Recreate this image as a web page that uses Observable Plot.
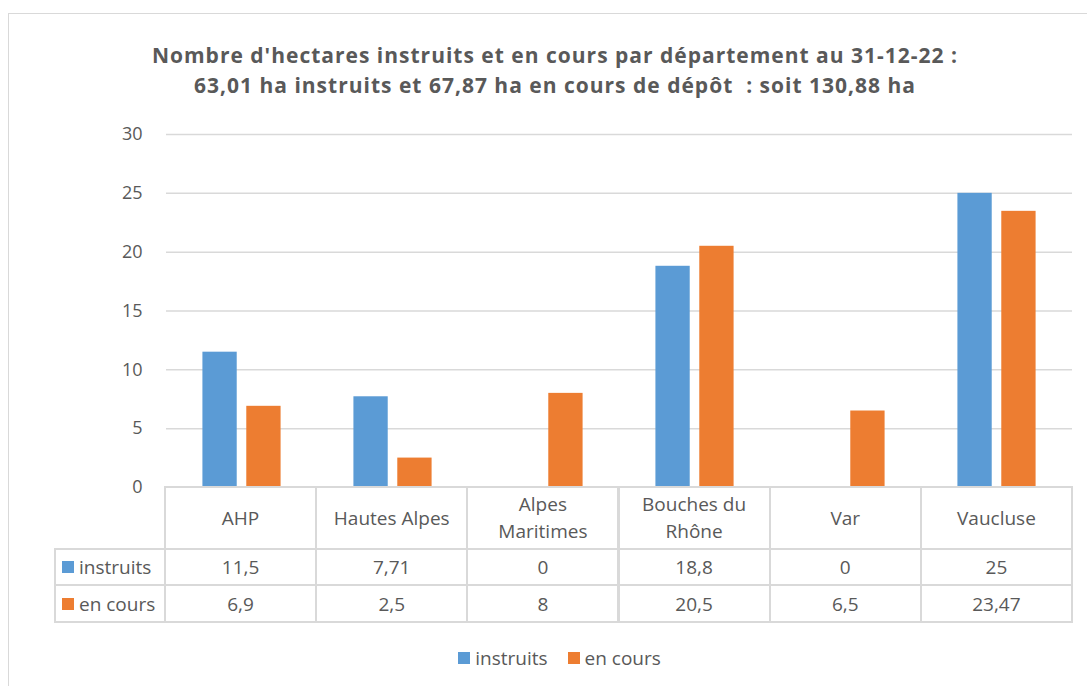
<!DOCTYPE html>
<html>
<head>
<meta charset="utf-8">
<script src="https://cdn.jsdelivr.net/npm/d3@7"></script>
<script src="https://cdn.jsdelivr.net/npm/@observablehq/plot@0.6"></script>
<style>
  html, body { margin: 0; padding: 0; background: #fff; }
  #wrap { position: relative; width: 1087px; height: 686px; overflow: hidden; background: #fff; font-family: "Open Sans", sans-serif; color: #595959; }
  #frame { position: absolute; left: 8px; top: 13px; width: 1200px; height: 800px; border: 1px solid #d9d9d9; box-sizing: border-box; }
  #title { position: absolute; left: 0; top: 40px; width: 1110px; text-align: center; font-weight: bold; font-size: 21px; letter-spacing: 1px; line-height: 30px; color: #595959; }
  #chart { position: absolute; left: 0; top: 110px; }
  #chart svg { overflow: visible; }
  .cell { position: absolute; box-sizing: border-box; border: 2px solid #d9d9d9; display: flex; align-items: center; justify-content: center; text-align: center; font-size: 19px; color: #595959; background: #fff; }
  .cell.head { line-height: 27px; }
  .cell.rowlab { justify-content: flex-start; padding-left: 6px; }
  .sw { display: inline-block; width: 12px; height: 12px; margin-right: 5px; }
  #legend { position: absolute; left: 0; top: 645px; width: 1119px; display: flex; justify-content: center; align-items: center; font-size: 19px; color: #595959; }
  #legend .item { display: flex; align-items: center; margin: 0 10px; }
</style>
</head>
<body>
<div id="wrap">
  <div id="frame"></div>
  <div id="title"></div>
  <div id="chart"></div>
  <div id="table"></div>
  <div id="legend"></div>
</div>
<script>
const titleLines = [
  "Nombre d'hectares instruits et en cours par département au 31-12-22 :",
  "63,01 ha instruits et 67,87 ha en cours de dépôt  : soit 130,88 ha"
];
const categories = ["AHP", "Hautes Alpes", "Alpes Maritimes", "Bouches du Rhône", "Var", "Vaucluse"];
const headerLines = [["AHP"], ["Hautes Alpes"], ["Alpes", "Maritimes"], ["Bouches du", "Rhône"], ["Var"], ["Vaucluse"]];
const series = ["instruits", "en cours"];
const instruits = [11.5, 7.71, 0, 18.8, 0, 25];
const enCours = [6.9, 2.5, 8, 20.5, 6.5, 23.47];
const seriesColors = ["#5B9BD5", "#ED7D31"];
const yTicks = [0, 5, 10, 15, 20, 25, 30];

const values = [instruits, enCours];
const data = [];
categories.forEach((c, i) => series.forEach((s, j) => data.push({dept: c, serie: s, value: values[j][i]})));

document.getElementById("title").innerHTML = titleLines.map(t => `<div style="white-space:pre">${t}</div>`).join("");

const plot = Plot.plot({
  width: 1087,
  height: 387,
  marginLeft: 165,
  marginRight: 15,
  marginTop: 24,
  marginBottom: 10,
  style: {fontFamily: "Open Sans, sans-serif", fontSize: "18px", color: "#595959", background: "transparent", overflow: "visible"},
  fx: {domain: categories, paddingInner: 0, paddingOuter: 0, axis: null, label: null},
  x: {domain: series, paddingInner: 0.218, paddingOuter: 0.83, round: false, axis: null, label: null},
  y: {domain: [0, 30], ticks: yTicks, tickSize: 0, tickPadding: 24, label: null, tickFormat: d => String(d)},
  color: {domain: series, range: seriesColors},
  marks: [
    Plot.ruleY(yTicks, {stroke: "#d9d9d9", strokeWidth: 1.5}),
    Plot.barY(data, {fx: "dept", x: "serie", y: "value", fill: "serie"})
  ]
});
document.getElementById("chart").appendChild(plot);

// Data table aligned on the fx scale
const fx = plot.scale("fx");
const fxScale = d3.scaleBand().domain(fx.domain).range(fx.range).paddingInner(0).paddingOuter(0);
const bw = fxScale.bandwidth();
const table = document.getElementById("table");
const top0 = 110 + 387 - 10 - 1; // baseline of y=0
const rowTops = [top0, top0 + 62, top0 + 98];
const rowHeights = [64, 38, 39];
const labLeft = 54;
function cell(left, top, w, h, html, cls) {
  const d = document.createElement("div");
  d.className = "cell " + cls;
  d.style.left = left + "px"; d.style.top = top + "px";
  d.style.width = w + "px"; d.style.height = h + "px";
  d.innerHTML = html;
  table.appendChild(d);
}
const fmt = v => String(v).replace(".", ",");
categories.forEach((c, i) => {
  const x0 = fxScale(c) - 1;
  cell(x0, rowTops[0], bw + 2, rowHeights[0], headerLines[i].join("<br>"), "head");
  series.forEach((s, j) => {
    cell(x0, rowTops[j + 1], bw + 2, rowHeights[j + 1], fmt(values[j][i]), "val");
  });
});
series.forEach((s, j) => {
  const x0 = labLeft;
  const w = fxScale(categories[0]) + 1 - labLeft;
  cell(x0, rowTops[j + 1], w, rowHeights[j + 1], `<span class="sw" style="background:${seriesColors[j]}"></span>${s}`, "rowlab");
});

document.getElementById("legend").innerHTML = series.map((s, j) =>
  `<div class="item"><span class="sw" style="background:${seriesColors[j]}"></span>${s}</div>`).join("");
</script>
</body>
</html>
